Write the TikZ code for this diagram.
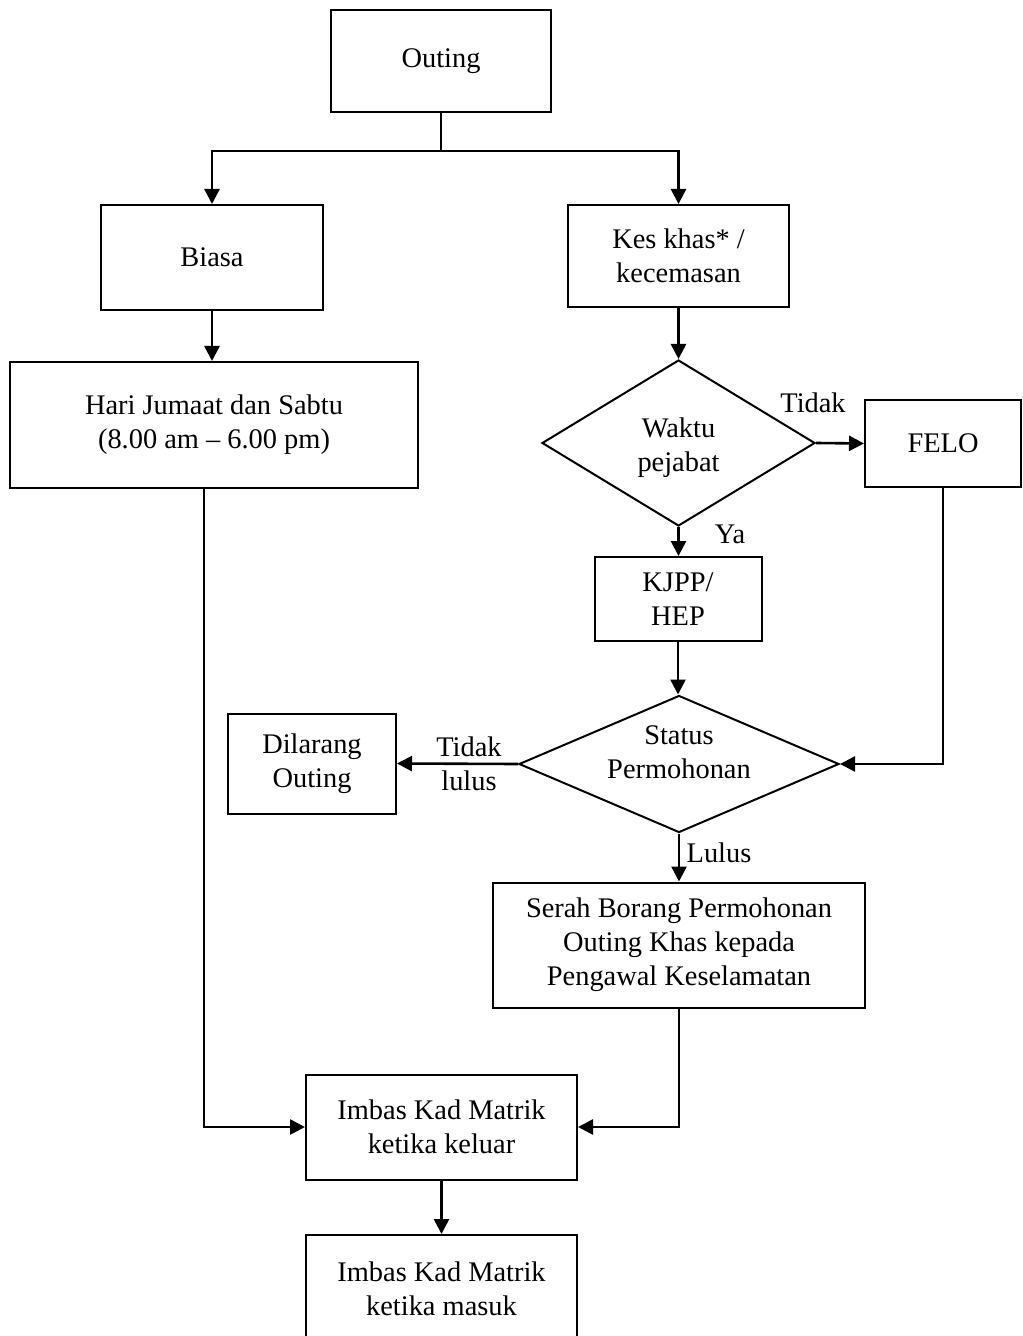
\documentclass[tikz,border=0pt]{standalone}
\usepackage{fontspec}
\setmainfont{Liberation Serif}
\usetikzlibrary{shapes.geometric,arrows.meta}

\begin{document}
\begin{tikzpicture}[x=0.5pt,y=-0.5pt,
  every node/.style={font=\fontsize{14.2}{17}\selectfont, align=center},
  box/.style={draw, line width=1pt, rectangle, inner sep=0pt},
  decision/.style={draw, line width=1pt, diamond, inner sep=0pt},
  txt/.style={inner sep=0pt},
  conn/.style={line width=1.3pt},
  arr/.style={conn, -{Triangle[length=7.5pt,width=7.5pt]}}]

\useasboundingbox (0,0) rectangle (1022,1336);
\clip (0,0) rectangle (1022,1336);

% process boxes
\node[box, minimum width=110pt, minimum height=51pt] (outing) at (441,61) {Outing};
\node[box, minimum width=111pt, minimum height=52.5pt] (biasa) at (212,257.5) {Biasa};
\node[box, minimum width=110.5pt, minimum height=51pt] (kes) at (678.5,256) {Kes khas* /\\kecemasan};
\node[box, minimum width=204pt, minimum height=63pt] (hari) at (214,425) {Hari Jumaat dan Sabtu\\(8.00 am -- 6.00 pm)};
\node[box, minimum width=78pt, minimum height=43.5pt] (felo) at (943,443.5) {FELO};
\node[box, minimum width=83.5pt, minimum height=42pt] (kjpp) at (678,599) {KJPP/\\HEP};
\node[box, minimum width=84pt, minimum height=50pt] (dilarang) at (312,763.5) {Dilarang\\Outing};
\node[box, minimum width=186pt, minimum height=62.5pt] (serah) at (679,945) {Serah Borang Permohonan\\Outing Khas kepada\\Pengawal Keselamatan};
\node[box, minimum width=135.5pt, minimum height=52.5pt] (imbas1) at (441.5,1127) {Imbas Kad Matrik\\ketika keluar};
\node[box, minimum width=135.5pt, minimum height=57pt] (imbas2) at (441.5,1292) {};
\node[txt] (imbas2txt) at (441.5,1288.5) {Imbas Kad Matrik\\ketika masuk};

% decisions
\node[decision, minimum width=136.5pt, minimum height=83pt] (waktu) at (678.5,443) {};
\node[txt] (waktutxt) at (678.5,448) {Waktu\\pejabat};
\node[decision, minimum width=160pt, minimum height=68.5pt] (status) at (679,764) {};
\node[txt] (statustxt) at (679,752) {Status\\Permohonan};

% branch labels
\node[txt] (lbltidak1) at (813,403) {Tidak};
\node[txt] (lblya) at (730,534) {Ya};
\node[txt] (lbltidak2) at (469,764) {Tidak\\lulus};
\node[txt] (lbllulus) at (719,853) {Lulus};

% connectors
\coordinate (split) at (441,151);
\draw[conn] (outing.south) -- (split);
\draw[arr] (split) -| (biasa.north);
\draw[arr] (split) -| (kes.north);
\draw[arr] (biasa.south) -- (biasa.south |- hari.north);
\draw[arr] (kes.south) -- (waktu.north);
\draw[arr] (waktu.east) -- (felo.west);
\draw[arr] (waktu.south) -- (waktu.south |- kjpp.north);
\draw[arr] (kjpp.south) -- (kjpp.south |- status.north);
\draw[arr] (status.west) -- (dilarang.east);
\draw[arr] (felo.south) |- (status.east);
\draw[arr] (status.south) -- (serah.north);
\draw[arr] (serah.south) |- (imbas1.east);
\draw[arr] ([xshift=-5pt]hari.south) |- (imbas1.west);
\draw[arr] (imbas1.south) -- (imbas2.north);
\end{tikzpicture}
\end{document}
